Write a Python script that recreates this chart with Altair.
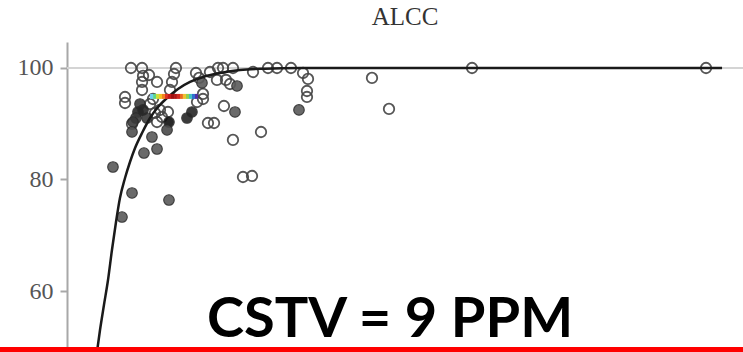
import altair as alt
import pandas as pd

# ---- data (x: soil test ppm, y: relative yield %) ----
open_ppm = [5.68, 6.66, 6.75, 7.28, 7.99, 6.66, 6.66, 5.15, 5.15, 7.63,
            9.67, 9.50, 9.32, 9.14, 8.96, 7.99, 8.25, 5.77, 11.45, 11.72,
            12.07, 12.07, 11.54, 12.69, 13.40, 13.85, 14.73, 13.31, 14.11, 14.47,
            13.93, 12.51, 13.05, 14.73, 15.62, 16.42, 16.51, 17.22, 17.84, 18.64,
            19.88, 20.95, 21.39, 21.30, 21.30, 27.07, 28.58, 35.95, 56.72, 8.43,
            7.81, 7.37]
open_ry = [100.0, 100.0, 98.57, 98.74, 97.49, 97.49, 96.05, 94.80, 93.72, 94.44,
           100.0, 98.92, 97.49, 96.05, 92.11, 90.31, 92.47, 89.96, 99.10, 98.21,
           95.34, 94.44, 93.90, 99.28, 100.0, 100.0, 100.0, 97.85, 97.85, 97.13,
           93.18, 90.13, 90.13, 87.09, 80.45, 80.63, 99.28, 88.52, 100.0, 100.0,
           100.0, 99.10, 98.03, 95.87, 94.80, 98.21, 92.65, 100.0, 100.0, 91.21,
           91.93, 93.54]

filled_ppm = [11.98, 15.09, 14.91, 20.59, 11.09, 10.65, 9.05, 8.88, 6.48, 6.30,
              6.12, 5.86, 7.10, 5.77, 7.54, 7.99, 6.83, 4.08, 5.77, 9.05,
              4.88, 6.75]
filled_ry = [97.31, 96.77, 92.11, 92.47, 92.11, 91.03, 90.31, 88.88, 93.54, 92.11,
             91.03, 90.31, 91.03, 88.52, 87.62, 85.47, 84.75, 82.24, 77.58, 76.32,
             73.27, 92.47]
filled_tone = ["#5a5a5a", "#5a5a5a", "#5a5a5a", "#5a5a5a", "#262626", "#262626",
               "#111111", "#4a4a4a", "#3a3a3a", "#262626", "#3a3a3a", "#3a3a3a",
               "#3a3a3a", "#505050", "#5a5a5a", "#5a5a5a", "#5a5a5a", "#5a5a5a",
               "#5a5a5a", "#5a5a5a", "#5a5a5a", "#262626"]

curve_ppm = [2.66, 2.93, 3.28, 3.64, 3.99, 4.35, 4.70, 5.15, 5.59, 6.04,
             6.66, 7.37, 8.08, 8.88, 9.85, 10.92, 12.07, 13.58, 15.35, 17.57,
             20.68, 29.56, 58.14]
curve_ry = [49.06, 53.0, 57.49, 61.97, 67.35, 72.38, 76.68, 80.27, 83.14, 85.65,
            88.34, 91.03, 93.0, 94.62, 96.23, 97.49, 98.39, 99.10, 99.64, 99.87,
            99.98, 100.0, 100.0]

bar_start = [7.37, 7.64, 7.90, 8.17, 8.43, 8.70, 8.96, 9.23, 9.50, 9.76,
             10.03, 10.29, 10.56, 10.83, 11.09, 11.36]
bar_end = [7.64, 7.90, 8.17, 8.43, 8.70, 8.96, 9.23, 9.50, 9.76, 10.03,
           10.29, 10.56, 10.83, 11.09, 11.36, 11.63]
bar_colors = ["#6ad0f0", "#5cd68a", "#c8e03c", "#f5c020", "#f08020", "#e03020",
              "#c01818", "#a01010", "#b01515", "#d02a20", "#e86a20", "#f0c030",
              "#90d050", "#40c0c0", "#3070d0", "#5030a0"]
bar_ry = 94.9

ref_ry = [100.0]
ref_from, ref_to = [0.0], [60.0]

label_text = ["CSTV = 9 PPM"]
label_ppm = [28.67]
label_ry = [51.75]

# ---- tables ----
open_df = pd.DataFrame({"ppm": open_ppm, "ry": open_ry})
filled_df = pd.DataFrame({"ppm": filled_ppm, "ry": filled_ry, "tone": filled_tone})
curve_df = pd.DataFrame({"ppm": curve_ppm, "ry": curve_ry})
bar_df = pd.DataFrame({"ppm": bar_start, "ppm2": bar_end, "ry": [bar_ry] * len(bar_start), "c": bar_colors})
ref_df = pd.DataFrame({"ppm": ref_from, "ppm2": ref_to, "ry": ref_ry})
label_df = pd.DataFrame({"ppm": label_ppm, "ry": label_ry, "t": label_text})

xs = alt.Scale(domain=[0, 60], nice=False, zero=False)
ys = alt.Scale(domain=[49.06, 104.66], nice=False, zero=False)
X = alt.X("ppm:Q", scale=xs, axis=None)
X2 = alt.X2("ppm2:Q")
Y = alt.Y("ry:Q", scale=ys, axis=alt.Axis(values=[60, 80, 100], title=None, grid=False))

ref = alt.Chart(ref_df).mark_rule(color="#d4d4d4", strokeWidth=2).encode(x=X, x2=X2, y=Y)
opens = alt.Chart(open_df).mark_point(shape="circle", size=110, filled=False,
                                      color="#444444", strokeWidth=1.8, opacity=0.9).encode(x=X, y=Y)
fills = alt.Chart(filled_df).mark_point(shape="circle", size=110, filled=True, opacity=0.9,
                                        stroke="#2a2a2a", strokeWidth=1.2).encode(
    x=X, y=Y, fill=alt.Fill("tone:N", scale=None))
curve = alt.Chart(curve_df).mark_line(color="#1a1a1a", strokeWidth=2.5, interpolate="monotone",
                                      clip=True).encode(x=X, y=Y)
bar = alt.Chart(bar_df).mark_rule(strokeWidth=5).encode(
    x=X, x2=X2, y=Y, color=alt.Color("c:N", scale=None))
label = alt.Chart(label_df).mark_text(font="Lato", fontWeight="bold", fontSize=56,
                                      align="center", baseline="alphabetic", color="#000000").encode(
    x=X, y=Y, text="t:N")
red = alt.Chart(ref_df).mark_rule(color="#ff0000", strokeWidth=6, clip=False).encode(
    x=alt.value(-67), x2=alt.value(676), y=alt.value(308))

chart = alt.layer(ref, opens, fills, curve, bar, label, red).properties(
    width=676, height=310,
    autosize=alt.AutoSizeParams(type="none"),
    padding={"left": 67, "top": 42, "right": 0, "bottom": 0},
    title=alt.TitleParams("ALCC", font="Liberation Serif", fontSize=25, fontWeight="normal",
                          color="#333333", offset=12, anchor="middle"),
).configure_view(stroke=None).configure_axis(
    domainColor="#a8a8a8", domainWidth=2, tickColor="#a8a8a8", tickWidth=2, tickSize=7,
    labelFont="Liberation Serif", labelFontSize=24, labelColor="#555555", labelPadding=7,
)

chart.save("out.html", embed_options={"renderer": "svg", "actions": False})
